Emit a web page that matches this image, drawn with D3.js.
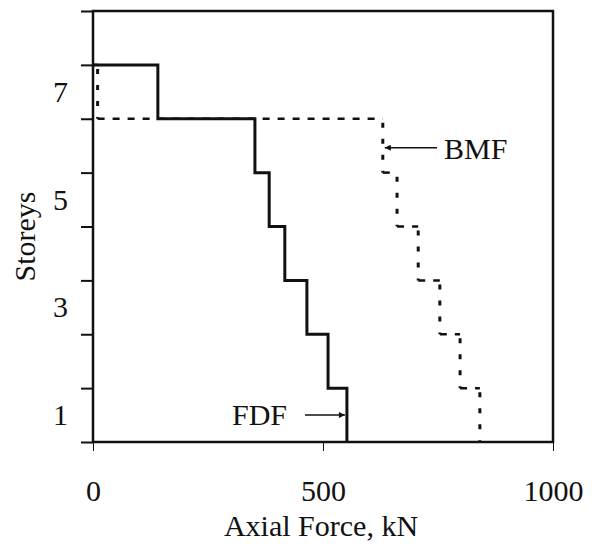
<!DOCTYPE html>
<html>
<head>
<script src="https://d3js.org/d3.v7.min.js"></script>
<style>
  body { margin: 0; background: #fff; }
  text { font-family: "Liberation Serif", "Times New Roman", serif; fill: #111; }
</style>
</head>
<body>
<div id="chart"></div>
<script>
// storey-by-storey axial force (kN), storey 1 first
var storeys = [1, 2, 3, 4, 5, 6, 7];
var fdf = [552, 511, 465, 417, 383, 352, 141];
var bmf = [841, 798, 754, 707, 661, 630, 10];
var xTicks = [0, 500, 1000];
var yTickLabels = [1, 3, 5, 7];

var width = 602, height = 544;
var margin = {top: 11, right: 49, bottom: 102, left: 93};

var svg = d3.select("#chart").append("svg")
    .attr("width", width)
    .attr("height", height);

var x = d3.scaleLinear().domain([0, 1000]).range([margin.left, width - margin.right]);
var y = d3.scaleLinear().domain([0, 8]).range([height - margin.bottom, margin.top]);

svg.append("defs").append("marker")
    .attr("id", "head")
    .attr("viewBox", "0 0 10 10")
    .attr("refX", 10).attr("refY", 5)
    .attr("markerWidth", 9).attr("markerHeight", 6)
    .attr("markerUnits", "userSpaceOnUse")
    .attr("orient", "auto")
  .append("path")
    .attr("d", "M0,0L10,5L0,10Z")
    .attr("fill", "#111");

// left ticks at every floor level
var yAxis = svg.append("g")
    .attr("transform", "translate(" + margin.left + ",0)")
    .call(d3.axisLeft(y).tickValues(d3.range(0, 9)).tickFormat("").tickSize(12).tickSizeOuter(0));
yAxis.select(".domain").remove();
yAxis.selectAll("line").attr("stroke", "#111").attr("stroke-width", 2);

// storey numbers sit mid-storey
var yLab = svg.append("g")
    .attr("transform", "translate(" + margin.left + ",0)")
    .call(d3.axisLeft(y).tickValues(yTickLabels.map(function(d){ return d - 0.5; }))
        .tickFormat(function(d){ return d + 0.5; }).tickSize(0).tickPadding(25));
yLab.select(".domain").remove();
yLab.selectAll("text").style("font-size", "30px");

var xAxis = svg.append("g")
    .attr("transform", "translate(0," + y(0) + ")")
    .call(d3.axisBottom(x).tickValues(xTicks).tickFormat(d3.format("d"))
        .tickSize(9).tickSizeOuter(0).tickPadding(29));
xAxis.select(".domain").remove();
xAxis.selectAll("line").attr("stroke", "#111").attr("stroke-width", 1);
xAxis.selectAll("text").style("font-size", "30px");

// frame
svg.append("rect")
    .attr("x", x(0)).attr("y", y(8))
    .attr("width", x(1000) - x(0)).attr("height", y(0) - y(8))
    .attr("fill", "none").attr("stroke", "#111").attr("stroke-width", 2.5);

// step outline: from roof down to ground
function stepPoints(vals) {
  var pts = [[0, 7]];
  for (var i = storeys.length - 1; i >= 0; i--) {
    var s = storeys[i];
    pts.push([vals[i], s]);
    pts.push([vals[i], s - 1]);
  }
  return pts;
}

var line = d3.line().x(function(d){ return x(d[0]); }).y(function(d){ return y(d[1]); });

// BMF dashed: horizontal and vertical parts drawn with different dashes
var bmfPts = stepPoints(bmf);
var hSeg = [], vSeg = [];
for (var i = 0; i < bmfPts.length - 1; i++) {
  var seg = [bmfPts[i], bmfPts[i + 1]];
  if (seg[0][1] === seg[1][1]) hSeg.push(seg); else vSeg.push(seg);
}
svg.append("g").selectAll("path").data(hSeg).enter().append("path")
    .attr("d", line)
    .attr("fill", "none").attr("stroke", "#111").attr("stroke-width", 2.5)
    .attr("stroke-dasharray", "7,8");
svg.append("g").selectAll("path").data(vSeg).enter().append("path")
    .attr("d", line)
    .attr("fill", "none").attr("stroke", "#111").attr("stroke-width", 3)
    .attr("stroke-dasharray", "5,11")
    .attr("stroke-dashoffset", -4);

// FDF solid
svg.append("path")
    .datum(stepPoints(fdf))
    .attr("d", line)
    .attr("fill", "none").attr("stroke", "#111").attr("stroke-width", 3);

// annotations
svg.append("line")
    .attr("x1", 437).attr("y1", y(5.5) + 2)
    .attr("x2", x(bmf[5]) + 2).attr("y2", y(5.5) + 2)
    .attr("stroke", "#111").attr("stroke-width", 1.5)
    .attr("marker-end", "url(#head)");
svg.append("text")
    .attr("x", 444).attr("y", y(5.5) + 13)
    .style("font-size", "30px")
    .text("BMF");

svg.append("line")
    .attr("x1", 305).attr("y1", y(0.5))
    .attr("x2", x(fdf[0]) - 2).attr("y2", y(0.5))
    .attr("stroke", "#111").attr("stroke-width", 1.5)
    .attr("marker-end", "url(#head)");
svg.append("text")
    .attr("x", 232).attr("y", y(0.5) + 10)
    .style("font-size", "30px")
    .text("FDF");

// axis titles
svg.append("text")
    .attr("x", (x(0) + x(1000)) / 2 - 2).attr("y", 536)
    .attr("text-anchor", "middle")
    .style("font-size", "30px")
    .text("Axial Force, kN");

svg.append("text")
    .attr("transform", "translate(35," + (y(4) + 10) + ") rotate(-90)")
    .attr("text-anchor", "middle")
    .style("font-size", "30px")
    .text("Storeys");
</script>
</body>
</html>
